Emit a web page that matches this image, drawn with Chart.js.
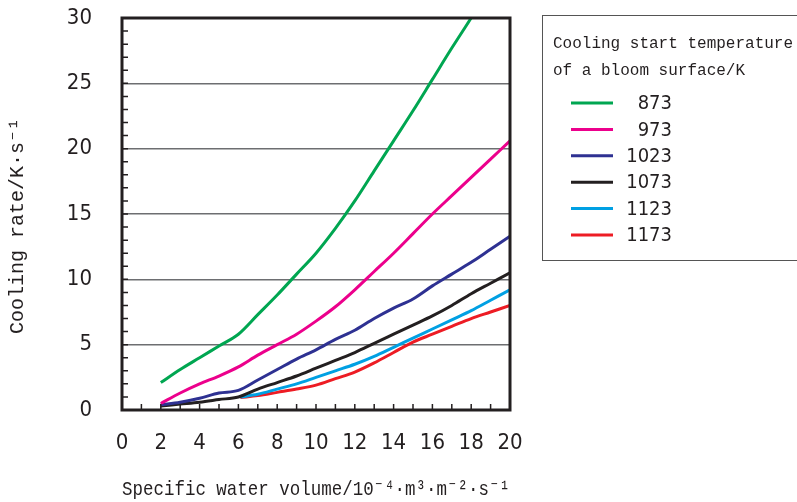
<!DOCTYPE html>
<html>
<head>
<meta charset="utf-8">
<script src="https://cdn.jsdelivr.net/npm/chart.js@4"></script>
<style>
	html, body { margin: 0; padding: 0; background: #fff; }
	#wrap { width: 797px; height: 502px; }
</style>
</head>
<body>
<div id="wrap"><canvas id="chart-cooling"></canvas></div>
<script>
// specific water volume (10^-4 m3 m-2 s-1)
const waterVolume = [2, 3, 4, 5, 6, 7, 8, 9, 10, 11, 12, 13, 14, 15, 16, 17, 18, 19, 20];
const waterVolumeLate = [6.1, 7, 8, 9, 10, 11, 12, 13, 14, 15, 16, 17, 18, 19, 20];

// cooling rate (K/s) by cooling start temperature
const rate873 = [2.1, 3.1, 4.0, 4.9, 5.8, 7.3, 8.8, 10.4, 12.0, 13.9, 16.0, 18.3, 20.6, 22.9, 25.3, 27.7, 30.0];
const rate973 = [0.5, 1.3, 2.0, 2.6, 3.3, 4.2, 5.0, 5.8, 6.8, 7.9, 9.2, 10.6, 12.0, 13.5, 15.0, 16.4, 17.8, 19.2, 20.6];
const rate1023 = [0.4, 0.6, 0.9, 1.3, 1.5, 2.3, 3.1, 3.9, 4.6, 5.4, 6.1, 7.0, 7.8, 8.5, 9.5, 10.4, 11.3, 12.3, 13.3];
const rate1073 = [0.3, 0.45, 0.6, 0.8, 1.0, 1.6, 2.1, 2.6, 3.2, 3.8, 4.4, 5.1, 5.8, 6.5, 7.2, 8.0, 8.9, 9.7, 10.5];
const rate1123 = [1.0, 1.2, 1.6, 2.0, 2.5, 3.0, 3.5, 4.1, 4.8, 5.5, 6.2, 6.9, 7.6, 8.4, 9.2];
const rate1173 = [0.95, 1.1, 1.35, 1.6, 1.9, 2.4, 2.9, 3.6, 4.4, 5.2, 5.8, 6.4, 7.0, 7.5, 8.0];

const seriesLabels = ['873', '973', '1023', '1073', '1123', '1173'];
const legendTitle = ['Cooling start temperature', 'of a bloom surface/K'];
const xTitle = 'Specific water volume/10\u207B\u2074\u00B7m\u00B3\u00B7m\u207B\u00B2\u00B7s\u207B\u00B9';
const yTitle = 'Cooling rate/K\u00B7s\u207B\u00B9  ';

const tickFont = "'Liberation Sans Narrow', 'DejaVu Sans Condensed', 'Liberation Sans', sans-serif";
const monoFont = "'Liberation Mono', 'DejaVu Sans Mono', monospace";

function pts(xs, ys) {
	return ys.map((y, i) => ({x: xs[i], y: y}));
}

// short inward ticks every unit, along bottom and left borders
const minorTicks = {
	id: 'minorTicks',
	afterDatasetsDraw(chart) {
		const {ctx, chartArea, scales} = chart;
		ctx.save();
		ctx.strokeStyle = '#231f20';
		ctx.lineWidth = 1.5;
		ctx.beginPath();
		for (let v = 1; v < 30; v++) {
			const y = scales.y.getPixelForValue(v);
			ctx.moveTo(chartArea.left, y);
			ctx.lineTo(chartArea.left + 6, y);
		}
		for (let v = 1; v < 20; v++) {
			const x = scales.x.getPixelForValue(v);
			ctx.moveTo(x, chartArea.bottom);
			ctx.lineTo(x, chartArea.bottom - 6);
		}
		ctx.stroke();
		// frame
		ctx.lineWidth = 3;
		ctx.strokeRect(chartArea.left, chartArea.top, chartArea.right - chartArea.left, chartArea.bottom - chartArea.top);
		ctx.restore();
	}
};

// boxed legend on the right
const boxLegend = {
	id: 'boxLegend',
	afterDraw(chart) {
		const ctx = chart.ctx;
		ctx.save();
		ctx.strokeStyle = '#555';
		ctx.lineWidth = 1;
		ctx.strokeRect(542.5, 15.5, 270, 245);
		ctx.fillStyle = '#231f20';
		ctx.font = '16px ' + monoFont;
		ctx.textBaseline = 'middle';
		ctx.textAlign = 'left';
		ctx.fillText(legendTitle[0], 553, 44);
		ctx.fillText(legendTitle[1], 553, 71);
		ctx.font = '20px ' + tickFont;
		ctx.textAlign = 'right';
		chart.data.datasets.forEach((ds, i) => {
			const y = 103 + i * 26.4;
			ctx.strokeStyle = ds.borderColor;
			ctx.lineWidth = 3;
			ctx.beginPath();
			ctx.moveTo(571, y);
			ctx.lineTo(613, y);
			ctx.stroke();
			ctx.fillText(ds.label, 672, y + 1);
		});
		ctx.restore();
	}
};

function renderCoolingGraph() {
	const ctx = document.getElementById('chart-cooling').getContext('2d');
	if (!ctx) {
		return;
	}

	const colors = ['#00a651', '#ec008c', '#2e3192', '#231f20', '#00a0e3', '#ed1c24'];
	const values = [
		pts(waterVolume, rate873),
		pts(waterVolume, rate973),
		pts(waterVolume, rate1023),
		pts(waterVolume, rate1073),
		pts(waterVolumeLate, rate1123),
		pts(waterVolumeLate, rate1173),
	];

	new Chart(ctx, {
		'type': 'line',
		'data': {
			'datasets': seriesLabels.map((label, i) => ({
				label: label,
				data: values[i],
				borderColor: colors[i],
				borderWidth: 3,
				pointRadius: 0,
				fill: false,
				cubicInterpolationMode: 'monotone',
			})),
		},
		options: {
			responsive: true,
			maintainAspectRatio: false,
			animation: false,
			layout: {
				padding: {left: 0, top: 18, right: 287, bottom: 0},
			},
			scales: {
				x: {
					type: 'linear',
					min: 0,
					max: 20,
					ticks: {
						stepSize: 2,
						padding: 12,
						color: '#231f20',
						font: {family: tickFont, size: 22},
					},
					grid: {display: false},
					border: {display: false},
					title: {
						display: true,
						text: xTitle,
						color: '#231f20',
						font: {family: monoFont, size: 21},
						padding: {top: 15, bottom: 0},
					},
					afterFit(scale) {
						scale.height = 92;
						scale.paddingLeft = 0;
						scale.paddingRight = 0;
					},
				},
				y: {
					min: 0,
					max: 30,
					ticks: {
						stepSize: 5,
						padding: 30,
						color: '#231f20',
						font: {family: tickFont, size: 22},
					},
					grid: {
						color: (c) => (c.tick && c.tick.value > 0 && c.tick.value < 30) ? '#6d6e71' : 'rgba(0,0,0,0)',
						lineWidth: 1.5,
						drawTicks: false,
					},
					border: {display: false},
					title: {
						display: true,
						text: yTitle,
						color: '#231f20',
						font: {family: monoFont, size: 20},
						padding: {top: 6, bottom: 10},
					},
					afterFit(scale) {
						scale.width = 122;
						scale.paddingTop = 0;
						scale.paddingBottom = 0;
					},
				},
			},
			plugins: {
				legend: {display: false},
				tooltip: {enabled: false},
			},
		},
		plugins: [minorTicks, boxLegend],
	});
}

renderCoolingGraph();
</script>
</body>
</html>
